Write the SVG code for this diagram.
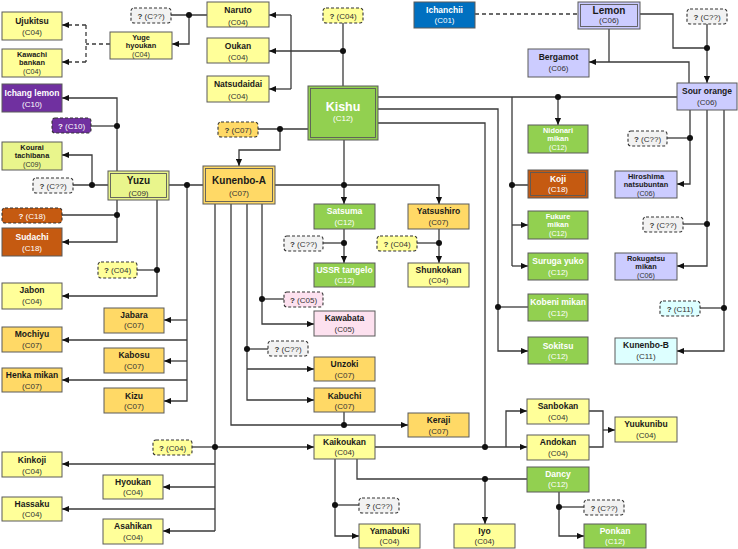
<svg xmlns="http://www.w3.org/2000/svg" width="738" height="549" viewBox="0 0 738 549">
<style>
.b{stroke:#5a5a5a;stroke-width:1}
.i{fill:none;stroke:#5a5a5a;stroke-width:0.9}
.y4{fill:#FFFF99}.o7{fill:#FFD966}.g{fill:#92D050}.r{fill:#C55A11}.p{fill:#7030A0}.l6{fill:#CCCCFF}.k5{fill:#FDE1EF}.c11{fill:#DDFFFF}.y9{fill:#E9F58C}.bl{fill:#0070C0}.qq{fill:#F2F2F2}
.q{stroke:#333;stroke-width:1.1;stroke-dasharray:3 2}
.n{font-family:"Liberation Sans",Arial,sans-serif;font-weight:bold;font-size:8.5px;text-anchor:middle;fill:#1a1a1a}
.t{font-family:"Liberation Sans",Arial,sans-serif;font-weight:bold;font-size:7.4px;text-anchor:middle;fill:#1a1a1a}
.N{font-family:"Liberation Sans",Arial,sans-serif;font-weight:bold;font-size:10px;text-anchor:middle;fill:#1a1a1a}
.c{font-family:"Liberation Sans",Arial,sans-serif;font-size:8px;text-anchor:middle;fill:#333}
.s{font-family:"Liberation Sans",Arial,sans-serif;font-size:7.2px;text-anchor:middle;fill:#333}
.w{fill:#fff}
.ln{fill:none;stroke:#3a3a3a;stroke-width:1.3}
.ar{marker-end:url(#a)}
.ds{stroke-dasharray:4 3}
.d{fill:#111}
</style>
<defs>
<marker id="a" viewBox="0 0 8 8" refX="8" refY="4" markerWidth="7" markerHeight="7" markerUnits="userSpaceOnUse" orient="auto"><path d="M0,0.5 L8,4 L0,7.5z" fill="#111"/></marker>
</defs>
<rect width="738" height="549" fill="#fff"/>

<g id="connectors">
<path class="ln ds" d="M110,44 H86 M86,25 V62"/>
<path class="ln ds ar" d="M86,25 H62"/>
<path class="ln ds ar" d="M86,62 H62"/>
<path class="ln" d="M171,15 H207"/>
<path class="ln ar" d="M189,15 V44 H172"/>
<path class="ln" d="M343,23 V86"/>
<path class="ln ar" d="M343,51 H269"/>
<path class="ln" d="M291,15 V89"/>
<path class="ln ar" d="M291,15 H269"/>
<path class="ln ar" d="M291,89 H269"/>
<path class="ln" d="M308,129 H258"/>
<path class="ln ar" d="M280,129 V150 H239 V166"/>
<path class="ln ar" d="M344,140 V204"/>
<path class="ln ar" d="M275,185 H439 V204"/>
<path class="ln ar" d="M344,229 V263"/>
<path class="ln" d="M323,243 H344"/>
<path class="ln ar" d="M439,229 V263"/>
<path class="ln" d="M417,243 H439"/>
<path class="ln" d="M378,97 H677"/>
<path class="ln ar" d="M558,97 V125"/>
<path class="ln" d="M512,97 V266 M512,185 H528"/>
<path class="ln ar" d="M512,225 H528"/>
<path class="ln ar" d="M512,266 H528"/>
<path class="ln ar" d="M378,109 H498 V351 H528"/>
<path class="ln" d="M498,307 H528"/>
<path class="ln" d="M378,123 H485 V447"/>
<path class="ln ar" d="M375,447 H527"/>
<path class="ln ar" d="M506,447 V411 H527"/>
<path class="ln" d="M589,411 H603 V447 H589"/>
<path class="ln ar" d="M603,430 H615"/>
<path class="ln" d="M357,459 V479 H527"/>
<path class="ln ar" d="M485,479 V524"/>
<path class="ln ar" d="M335,459 V536 H359"/>
<path class="ln" d="M335,505 H359"/>
<path class="ln ar" d="M559,492 V536 H584"/>
<path class="ln" d="M559,507 H584"/>
<path class="ln" d="M215,204 V531"/>
<path class="ln" d="M192,447 H215"/>
<path class="ln ar" d="M215,447 H314"/>
<path class="ln ar" d="M215,464 H62"/>
<path class="ln ar" d="M215,487 H163"/>
<path class="ln ar" d="M215,509 H62"/>
<path class="ln ar" d="M215,531 H163"/>
<path class="ln ar" d="M231,204 V425 H408"/>
<path class="ln" d="M344,412 V425"/>
<path class="ln ar" d="M247,204 V400 H314"/>
<path class="ln ar" d="M247,369 H314"/>
<path class="ln" d="M247,349 H268"/>
<path class="ln ar" d="M262,204 V324 H314"/>
<path class="ln" d="M262,299 H284"/>
<path class="ln" d="M169,185 H203"/>
<path class="ln ar" d="M187,185 V401 H164"/>
<path class="ln ar" d="M187,320 H164"/>
<path class="ln ar" d="M187,340 H62"/>
<path class="ln ar" d="M187,361 H164"/>
<path class="ln ar" d="M187,380 H62"/>
<path class="ln ar" d="M117,171 V98 H62"/>
<path class="ln" d="M91,126 H117"/>
<path class="ln" d="M73,185 H108"/>
<path class="ln ar" d="M92,185 V155 H62"/>
<path class="ln ar" d="M117,200 V242 H62"/>
<path class="ln" d="M62,215 H117"/>
<path class="ln ar" d="M157,200 V296 H62"/>
<path class="ln" d="M137,270 H157"/>
<path class="ln ds" d="M475,14 H578"/>
<path class="ln" d="M609,29 V62"/>
<path class="ln ar" d="M689,83 V62 H589"/>
<path class="ln" d="M640,14 H673 V48 H707"/>
<path class="ln ar" d="M707,24 V83"/>
<path class="ln ar" d="M690,110 V184 H677"/>
<path class="ln" d="M667,138 H690"/>
<path class="ln ar" d="M707,110 V266 H677"/>
<path class="ln" d="M683,224 H707"/>
<path class="ln ar" d="M724,110 V351 H677"/>
<path class="ln" d="M700,308 H724"/>
<g class="d">
<circle cx="189" cy="15" r="3"/><circle cx="343" cy="51" r="3"/><circle cx="280" cy="129" r="3"/>
<circle cx="344" cy="185" r="3"/><circle cx="344" cy="243" r="3"/><circle cx="439" cy="243" r="3"/>
<circle cx="558" cy="97" r="3"/><circle cx="512" cy="185" r="3"/><circle cx="498" cy="307" r="3"/>
<circle cx="485" cy="447" r="3"/><circle cx="485" cy="479" r="3"/><circle cx="335" cy="505" r="3"/>
<circle cx="559" cy="507" r="3"/><circle cx="215" cy="447" r="3"/><circle cx="344" cy="425" r="3"/>
<circle cx="247" cy="349" r="3"/><circle cx="262" cy="299" r="3"/><circle cx="187" cy="185" r="3"/>
<circle cx="117" cy="126" r="3"/><circle cx="92" cy="185" r="3"/><circle cx="117" cy="215" r="3"/>
<circle cx="157" cy="270" r="3"/><circle cx="707" cy="48" r="3"/><circle cx="690" cy="138" r="3"/>
<circle cx="707" cy="224" r="3"/><circle cx="724" cy="308" r="3"/>
</g>
</g>

<g id="ujukitsu"><rect class="b y4" x="2" y="12" width="60" height="28"/><text class="n" x="32" y="24">Ujukitsu</text><text class="c" x="32" y="35">(C04)</text></g>
<g id="kawachi-bankan"><rect class="b y4" x="2" y="49" width="60" height="28"/><text class="t" x="32" y="56.5">Kawachi</text><text class="t" x="32" y="65">bankan</text><text class="s" x="32" y="74">(C04)</text></g>
<g id="yuge-hyoukan"><rect class="b y4" x="110" y="32" width="62" height="27"/><text class="t" x="141" y="39.5">Yuge</text><text class="t" x="141" y="48">hyoukan</text><text class="s" x="141" y="56.5">(C04)</text></g>
<g id="q-yuge"><rect class="q qq" x="131" y="8" width="40" height="15" rx="3"/><text class="c" x="151" y="18.5"><tspan font-weight="bold">?</tspan> (C??)</text></g>
<g id="naruto"><rect class="b y4" x="207" y="2" width="62" height="25"/><text class="n" x="238" y="13">Naruto</text><text class="c" x="238" y="24.5">(C04)</text></g>
<g id="oukan"><rect class="b y4" x="207" y="38" width="62" height="25"/><text class="n" x="238" y="49">Oukan</text><text class="c" x="238" y="60">(C04)</text></g>
<g id="natsudaidai"><rect class="b y4" x="207" y="76" width="62" height="26"/><text class="n" x="238" y="87">Natsudaidai</text><text class="c" x="238" y="99">(C04)</text></g>
<g id="q-kishu"><rect class="q y4" x="323" y="8" width="40" height="15" rx="3"/><text class="c" x="343" y="18.5"><tspan font-weight="bold">?</tspan> (C04)</text></g>
<g id="kishu"><rect class="b g" x="308" y="86" width="70" height="54"/><rect class="i" x="310.5" y="88.5" width="65" height="49"/><text class="n w" style="font-size:12.5px" x="343" y="111">Kishu</text><text class="c w" x="343" y="121">(C12)</text></g>
<g id="q-kunenbo"><rect class="q o7" x="218" y="122" width="40" height="15" rx="3"/><text class="c" x="238" y="133"><tspan font-weight="bold">?</tspan> (C07)</text></g>
<g id="kunenbo-a"><rect class="b o7" x="203" y="166" width="72" height="38"/><rect class="i" x="205.5" y="168.5" width="67" height="33"/><text class="N" x="239" y="184">Kunenbo-A</text><text class="c" x="239" y="196">(C07)</text></g>
<g id="ichang-lemon"><rect class="b p" x="2" y="84" width="60" height="28"/><text class="n w" x="32" y="96">Ichang lemon</text><text class="c w" x="32" y="106.5">(C10)</text></g>
<g id="q-c10"><rect class="q p" x="52" y="118" width="39" height="15" rx="3"/><text class="c w" x="71.5" y="129"><tspan font-weight="bold">?</tspan> (C10)</text></g>
<g id="kourai-tachibana"><rect class="b y9" x="2" y="142" width="60" height="28"/><text class="t" x="32" y="149.5">Kourai</text><text class="t" x="32" y="158">tachibana</text><text class="s" x="32" y="167">(C09)</text></g>
<g id="q-kourai"><rect class="q qq" x="33" y="178" width="40" height="15" rx="3"/><text class="c" x="53" y="189"><tspan font-weight="bold">?</tspan> (C??)</text></g>
<g id="yuzu"><rect class="b y9" x="108" y="171" width="61" height="29"/><rect class="i" x="110.5" y="173.5" width="56" height="24"/><text class="N" x="138.5" y="184">Yuzu</text><text class="c" x="138.5" y="196">(C09)</text></g>
<g id="q-c18"><rect class="q r" x="2" y="208" width="60" height="15" rx="3"/><text class="c w" x="32" y="218.5"><tspan font-weight="bold">?</tspan> (C18)</text></g>
<g id="sudachi"><rect class="b r" x="2" y="228" width="60" height="28"/><text class="n w" x="32" y="240">Sudachi</text><text class="c w" x="32" y="250.5">(C18)</text></g>
<g id="q-jabon"><rect class="q y4" x="98" y="262" width="39" height="16" rx="3"/><text class="c" x="117.5" y="273"><tspan font-weight="bold">?</tspan> (C04)</text></g>
<g id="jabon"><rect class="b y4" x="2" y="283" width="60" height="26"/><text class="n" x="32" y="293">Jabon</text><text class="c" x="32" y="303.5">(C04)</text></g>
<g id="jabara"><rect class="b o7" x="104" y="308" width="60" height="25"/><text class="n" x="134" y="318">Jabara</text><text class="c" x="134" y="328">(C07)</text></g>
<g id="mochiyu"><rect class="b o7" x="2" y="327" width="60" height="25"/><text class="n" x="32" y="337">Mochiyu</text><text class="c" x="32" y="347.5">(C07)</text></g>
<g id="kabosu"><rect class="b o7" x="104" y="348" width="60" height="25"/><text class="n" x="134" y="358">Kabosu</text><text class="c" x="134" y="368.5">(C07)</text></g>
<g id="henka-mikan"><rect class="b o7" x="2" y="368" width="60" height="24"/><text class="n" x="32" y="378">Henka mikan</text><text class="c" x="32" y="388.5">(C07)</text></g>
<g id="kizu"><rect class="b o7" x="104" y="388" width="60" height="25"/><text class="n" x="134" y="399">Kizu</text><text class="c" x="134" y="409">(C07)</text></g>
<g id="q-kaikoukan"><rect class="q y4" x="153" y="440" width="39" height="15" rx="3"/><text class="c" x="172.5" y="451"><tspan font-weight="bold">?</tspan> (C04)</text></g>
<g id="kinkoji"><rect class="b y4" x="2" y="452" width="60" height="25"/><text class="n" x="32" y="463">Kinkoji</text><text class="c" x="32" y="473.5">(C04)</text></g>
<g id="hyoukan"><rect class="b y4" x="103" y="475" width="60" height="24"/><text class="n" x="133" y="485">Hyoukan</text><text class="c" x="133" y="495">(C04)</text></g>
<g id="hassaku"><rect class="b y4" x="2" y="497" width="60" height="24"/><text class="n" x="32" y="507">Hassaku</text><text class="c" x="32" y="517">(C04)</text></g>
<g id="asahikan"><rect class="b y4" x="103" y="519" width="60" height="25"/><text class="n" x="133" y="529">Asahikan</text><text class="c" x="133" y="539.5">(C04)</text></g>
<g id="satsuma"><rect class="b g" x="314" y="204" width="61" height="25"/><text class="n w" x="344.5" y="214">Satsuma</text><text class="c w" x="344.5" y="224.5">(C12)</text></g>
<g id="q-satsuma"><rect class="q qq" x="284" y="236" width="39" height="15" rx="3"/><text class="c" x="303.5" y="247"><tspan font-weight="bold">?</tspan> (C??)</text></g>
<g id="ussr-tangelo"><rect class="b g" x="314" y="263" width="61" height="24"/><text class="n w" x="344.5" y="272.5">USSR tangelo</text><text class="c w" x="344.5" y="283">(C12)</text></g>
<g id="yatsushiro"><rect class="b o7" x="408" y="204" width="61" height="25"/><text class="n" x="438.5" y="214">Yatsushiro</text><text class="c" x="438.5" y="224.5">(C07)</text></g>
<g id="q-yatsushiro"><rect class="q y4" x="377" y="236" width="40" height="15" rx="3"/><text class="c" x="397" y="247"><tspan font-weight="bold">?</tspan> (C04)</text></g>
<g id="shunkokan"><rect class="b y4" x="408" y="263" width="61" height="24"/><text class="n" x="438.5" y="272.5">Shunkokan</text><text class="c" x="438.5" y="283">(C04)</text></g>
<g id="q-c05"><rect class="q k5" x="284" y="292" width="39" height="15" rx="3"/><text class="c" x="303.5" y="303"><tspan font-weight="bold">?</tspan> (C05)</text></g>
<g id="kawabata"><rect class="b k5" x="314" y="311" width="61" height="25"/><text class="n" x="344.5" y="321">Kawabata</text><text class="c" x="344.5" y="332">(C05)</text></g>
<g id="q-unzoki"><rect class="q qq" x="268" y="341" width="40" height="15" rx="3"/><text class="c" x="288" y="352"><tspan font-weight="bold">?</tspan> (C??)</text></g>
<g id="unzoki"><rect class="b o7" x="314" y="357" width="61" height="24"/><text class="n" x="344.5" y="367">Unzoki</text><text class="c" x="344.5" y="377.5">(C07)</text></g>
<g id="kabuchi"><rect class="b o7" x="314" y="388" width="61" height="24"/><text class="n" x="344.5" y="398.5">Kabuchi</text><text class="c" x="344.5" y="408.5">(C07)</text></g>
<g id="keraji"><rect class="b o7" x="408" y="413" width="61" height="24"/><text class="n" x="438.5" y="423">Keraji</text><text class="c" x="438.5" y="433.5">(C07)</text></g>
<g id="kaikoukan"><rect class="b y4" x="314" y="435" width="61" height="24"/><text class="n" x="344.5" y="445">Kaikoukan</text><text class="c" x="344.5" y="455">(C04)</text></g>
<g id="q-yamabuki"><rect class="q qq" x="359" y="498" width="40" height="15" rx="3"/><text class="c" x="379" y="509"><tspan font-weight="bold">?</tspan> (C??)</text></g>
<g id="yamabuki"><rect class="b y4" x="359" y="524" width="61" height="24"/><text class="n" x="389.5" y="534">Yamabuki</text><text class="c" x="389.5" y="544">(C04)</text></g>
<g id="iyo"><rect class="b y4" x="454" y="524" width="61" height="24"/><text class="n" x="484.5" y="534">Iyo</text><text class="c" x="484.5" y="544">(C04)</text></g>
<g id="sanbokan"><rect class="b y4" x="527" y="399" width="62" height="25"/><text class="n" x="558" y="409">Sanbokan</text><text class="c" x="558" y="419.5">(C04)</text></g>
<g id="andokan"><rect class="b y4" x="527" y="435" width="62" height="25"/><text class="n" x="558" y="445">Andokan</text><text class="c" x="558" y="455.5">(C04)</text></g>
<g id="yuukunibu"><rect class="b y4" x="615" y="417" width="62" height="25"/><text class="n" x="646" y="427">Yuukunibu</text><text class="c" x="646" y="437.5">(C04)</text></g>
<g id="dancy"><rect class="b g" x="527" y="467" width="62" height="25"/><text class="n w" x="558" y="477">Dancy</text><text class="c w" x="558" y="487">(C12)</text></g>
<g id="q-ponkan"><rect class="q qq" x="584" y="500" width="40" height="15" rx="3"/><text class="c" x="604" y="511"><tspan font-weight="bold">?</tspan> (C??)</text></g>
<g id="ponkan"><rect class="b g" x="584" y="524" width="62" height="24"/><text class="n w" x="615" y="534">Ponkan</text><text class="c w" x="615" y="544">(C12)</text></g>
<g id="ichanchii"><rect class="b bl" x="414" y="2" width="61" height="26"/><text class="n w" x="444.5" y="13">Ichanchii</text><text class="c w" x="444.5" y="23">(C01)</text></g>
<g id="lemon"><rect class="b l6" x="578" y="2" width="62" height="27"/><rect class="i" x="580.5" y="4.5" width="57" height="22"/><text class="N" x="609" y="13.5">Lemon</text><text class="c" x="609" y="23">(C06)</text></g>
<g id="q-sour"><rect class="q qq" x="687" y="9" width="40" height="15" rx="3"/><text class="c" x="707" y="20"><tspan font-weight="bold">?</tspan> (C??)</text></g>
<g id="bergamot"><rect class="b l6" x="528" y="49" width="61" height="28"/><text class="n" x="558.5" y="60">Bergamot</text><text class="c" x="558.5" y="70.5">(C06)</text></g>
<g id="sour-orange"><rect class="b l6" x="677" y="83" width="60" height="27"/><text class="n" x="707" y="94">Sour orange</text><text class="c" x="707" y="104.5">(C06)</text></g>
<g id="nidonari-mikan"><rect class="b g" x="528" y="125" width="60" height="28"/><text class="t w" x="558" y="132.5">Nidonari</text><text class="t w" x="558" y="141">mikan</text><text class="s w" x="558" y="150">(C12)</text></g>
<g id="koji"><rect class="b r" x="528" y="170" width="60" height="28"/><rect class="i" x="530.5" y="172.5" width="55" height="23"/><text class="n w" x="558" y="181.5">Koji</text><text class="c w" x="558" y="192">(C18)</text></g>
<g id="fukure-mikan"><rect class="b g" x="528" y="211" width="60" height="28"/><text class="t w" x="558" y="218.5">Fukure</text><text class="t w" x="558" y="227">mikan</text><text class="s w" x="558" y="236">(C12)</text></g>
<g id="suruga-yuko"><rect class="b g" x="528" y="253" width="60" height="27"/><text class="n w" x="558" y="264">Suruga yuko</text><text class="c w" x="558" y="274.5">(C12)</text></g>
<g id="kobeni-mikan"><rect class="b g" x="528" y="294" width="60" height="27"/><text class="n w" x="558" y="305">Kobeni mikan</text><text class="c w" x="558" y="315.5">(C12)</text></g>
<g id="sokitsu"><rect class="b g" x="528" y="337" width="60" height="27"/><text class="n w" x="558" y="348.5">Sokitsu</text><text class="c w" x="558" y="358.5">(C12)</text></g>
<g id="q-hiroshima"><rect class="q qq" x="628" y="131" width="39" height="15" rx="3"/><text class="c" x="647.5" y="142"><tspan font-weight="bold">?</tspan> (C??)</text></g>
<g id="hiroshima-natsubuntan"><rect class="b l6" x="615" y="171" width="62" height="27"/><text class="t" x="646" y="178.5">Hiroshima</text><text class="t" x="646" y="187">natsubuntan</text><text class="s" x="646" y="196">(C06)</text></g>
<g id="q-rokugatsu"><rect class="q qq" x="643" y="217" width="40" height="15" rx="3"/><text class="c" x="663" y="228"><tspan font-weight="bold">?</tspan> (C??)</text></g>
<g id="rokugatsu-mikan"><rect class="b l6" x="615" y="253" width="62" height="27"/><text class="t" x="646" y="260.5">Rokugatsu</text><text class="t" x="646" y="269">mikan</text><text class="s" x="646" y="278">(C06)</text></g>
<g id="q-c11"><rect class="q c11" x="660" y="301" width="40" height="15" rx="3"/><text class="c" x="680" y="312"><tspan font-weight="bold">?</tspan> (C11)</text></g>
<g id="kunenbo-b"><rect class="b c11" x="615" y="338" width="62" height="26"/><text class="n" x="646" y="348">Kunenbo-B</text><text class="c" x="646" y="358.5">(C11)</text></g>
</svg>
